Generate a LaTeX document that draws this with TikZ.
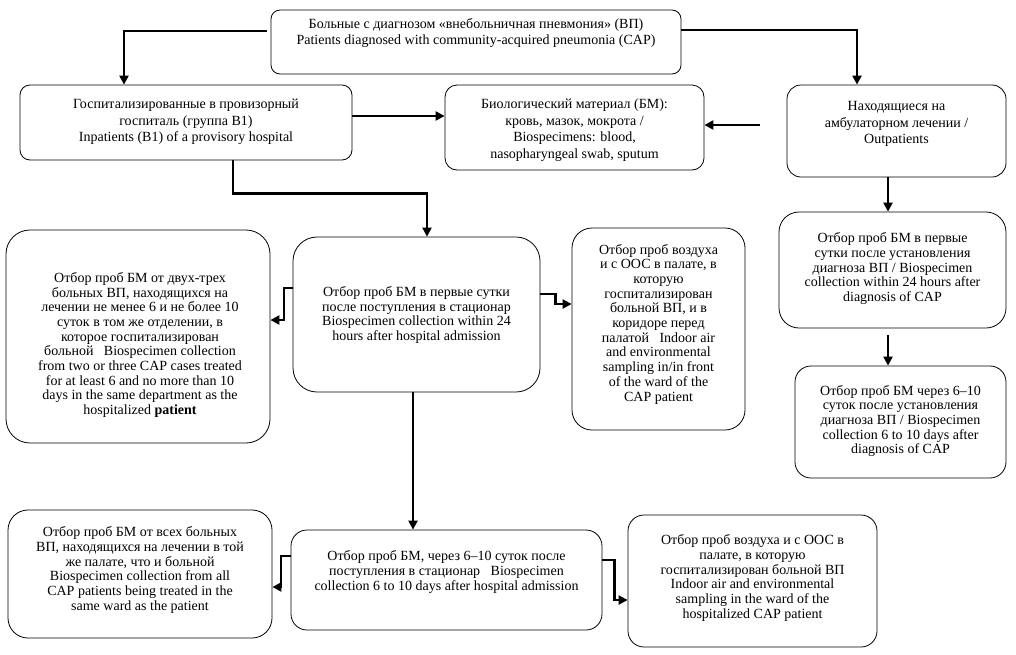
\documentclass[tikz,border=0pt]{standalone}
\usepackage{fontspec}
\setmainfont{Liberation Serif}
\usetikzlibrary{arrows.meta}
\tikzset{
  box/.style={draw, line width=0.8pt, inner sep=0pt},
  txt/.style={align=center, inner sep=0pt, font=\fontsize{14}{14.7}\selectfont},
  txtb/.style={align=center, inner sep=0pt, font=\fontsize{14}{16.7}\selectfont},
  conn/.style={line width=2.2pt, -{Triangle[width=9pt,length=9pt]}}
}
\begin{document}
\begin{tikzpicture}
\useasboundingbox (0,0) rectangle (1016pt,-654pt);
\fill[white] (0,0) rectangle (1016pt,-654pt);

% boxes
\node[box, rounded corners=9pt, minimum width=410pt, minimum height=64pt] (top) at (476pt,-42pt) {};
\node[box, rounded corners=10pt, minimum width=332pt, minimum height=75pt] (inp) at (186pt,-122.5pt) {};
\node[box, rounded corners=12pt, minimum width=259pt, minimum height=85pt] (bm) at (574.5pt,-127.5pt) {};
\node[box, rounded corners=14pt, minimum width=219pt, minimum height=92pt] (outp) at (896.5pt,-131pt) {};
\node[box, rounded corners=24pt, minimum width=264pt, minimum height=213pt] (left) at (138pt,-336.5pt) {};
\node[box, rounded corners=24pt, minimum width=247pt, minimum height=155pt] (day1) at (416.5pt,-314.5pt) {};
\node[box, rounded corners=20pt, minimum width=173pt, minimum height=202pt] (air) at (658.5pt,-329pt) {};
\node[box, rounded corners=20pt, minimum width=227pt, minimum height=116pt] (outday1) at (892.5pt,-270pt) {};
\node[box, rounded corners=16pt, minimum width=211pt, minimum height=112pt] (outday6) at (900.5pt,-422pt) {};
\node[box, rounded corners=20pt, minimum width=264pt, minimum height=128pt] (botleft) at (140pt,-574pt) {};
\node[box, rounded corners=16pt, minimum width=311pt, minimum height=100pt] (botmid) at (446.5pt,-580pt) {};
\node[box, rounded corners=16pt, minimum width=249pt, minimum height=132pt] (botright) at (752.5pt,-581pt) {};

% texts
\node[txtb] (topt) at (476pt,-33pt) {Больные с диагнозом «внебольничная пневмония» (ВП)\\Patients diagnosed with community-acquired pneumonia (CAP)};
\node[txtb] (inpt) at (186pt,-122pt) {Госпитализированные в провизорный\\госпиталь (группа В1)\\Inpatients (B1) of a provisory hospital};
\node[txtb] (bmt) at (574.5pt,-130pt) {Биологический материал (БМ):\\кровь, мазок, мокрота /\\Biospecimens: blood,\\nasopharyngeal swab, sputum};
\node[txtb] (outpt) at (896.5pt,-124pt) {Находящиеся на\\амбулаторном лечении /\\Outpatients};
\node[txt] (leftt) at (140pt,-345pt) {Отбор проб БМ от двух-трех\\больных ВП, находящихся на\\лечении не менее 6 и не более 10\\суток в том же отделении, в\\которое госпитализирован\\больной \ \ Biospecimen collection\\from two or three CAP cases treated\\for at least 6 and no more than 10\\days in the same department as the\\hospitalized \textbf{patient}};
\node[txt] (day1t) at (416.5pt,-315pt) {Отбор проб БМ в первые сутки\\после поступления в стационар\\Biospecimen collection within 24\\hours after hospital admission};
\node[txt] (airt) at (658.5pt,-324pt) {Отбор проб воздуха\\и с ООС в палате, в\\которую\\госпитализирован\\больной ВП, и в\\коридоре перед\\палатой \ \ Indoor air\\and environmental\\sampling in/in front\\of the ward of the\\CAP patient};
\node[txt] (outday1t) at (892.5pt,-268.5pt) {Отбор проб БМ в первые\\сутки после установления\\диагноза ВП / Biospecimen\\collection within 24 hours after\\diagnosis of CAP};
\node[txt] (outday6t) at (900.5pt,-421pt) {Отбор проб БМ через 6–10\\суток после установления\\диагноза ВП / Biospecimen\\collection 6 to 10 days after\\diagnosis of CAP};
\node[txt] (botleftt) at (140pt,-570pt) {Отбор проб БМ от всех больных\\ВП, находящихся на лечении в той\\же палате, что и больной\\Biospecimen collection from all\\CAP patients being treated in the\\same ward as the patient};
\node[txt] (botmidt) at (446.5pt,-572pt) {Отбор проб БМ, через 6–10 суток после\\поступления в стационар \ \ Biospecimen\\collection 6 to 10 days after hospital admission};
\node[txt] (botrightt) at (752.5pt,-578pt) {Отбор проб воздуха и с ООС в\\палате, в которую\\госпитализирован больной ВП\\Indoor air and environmental\\sampling in the ward of the\\hospitalized CAP patient};

% connectors
\draw[conn] ([xshift=-4pt,yshift=11pt]top.west) -| ([xshift=-62pt]inp.north);
\draw[conn] ([yshift=12pt]top.east) -| ([xshift=-39.5pt]outp.north);
\draw[conn] ([yshift=6.5pt]inp.east) coordinate (a) -- (a -| bm.west);
\draw[conn] ([xshift=-27pt,yshift=6pt]outp.west) coordinate (b) -- (b -| bm.east);
\draw[conn] ([xshift=47pt]inp.south) -- ++(0,-33pt) -| ([xshift=10.5pt]day1.north);
\draw[conn] ([yshift=26.5pt]day1.west) -- ++(-9pt,0) |- ([yshift=16.5pt]left.east);
\draw[conn] ([yshift=20.5pt]day1.east) -- ++(15pt,0) |- ([yshift=25pt]air.west);
\draw[conn] ([xshift=-8.5pt]outp.south) coordinate (c) -- (c |- outday1.north);
\draw[conn] ([xshift=-4.5pt,yshift=-7pt]outday1.south) coordinate (d) -- (d |- outday6.north);
\draw[conn] ([xshift=-3.5pt]day1.south) coordinate (e) -- (e |- botmid.north);
\draw[conn] ([yshift=24pt]botmid.west) -- ++(-10pt,0) |- ([yshift=-13pt]botleft.east);
\draw[conn] ([yshift=20pt]botmid.east) -- ++(12pt,0) |- ([yshift=-19pt]botright.west);
\end{tikzpicture}
\end{document}
